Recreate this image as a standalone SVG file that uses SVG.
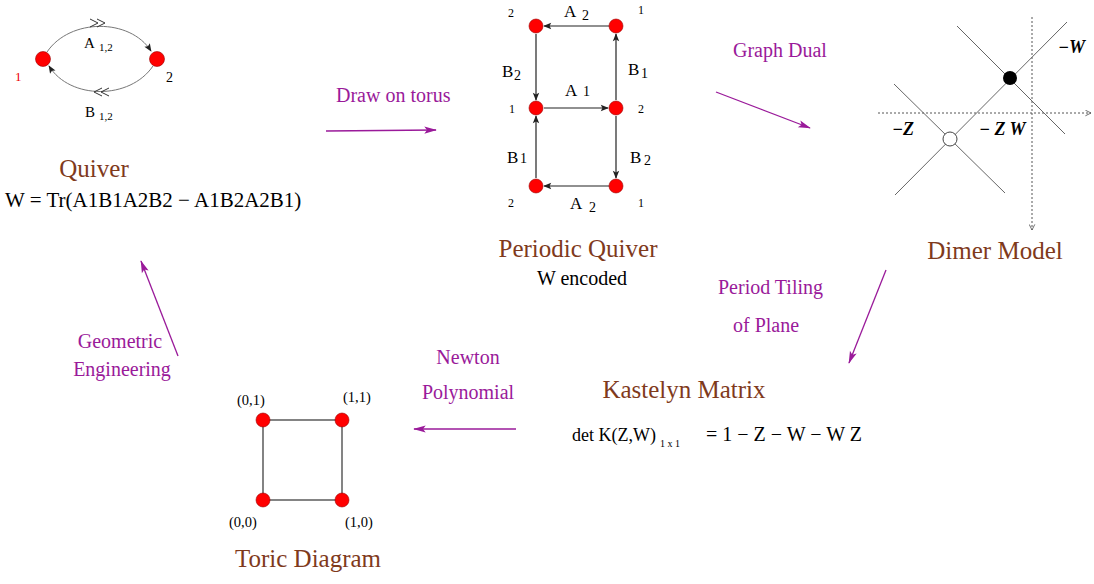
<svg xmlns="http://www.w3.org/2000/svg" width="1094" height="584" viewBox="0 0 1094 584">
<defs>
<style>
text{font-family:"Liberation Serif","Times New Roman",serif;fill:#000}
.title{font-size:25px;fill:#7f3a1c}
.lab{font-size:20px;fill:#9a1a9a}
.eq{font-size:20px}
.sm{font-size:11px}
.num{font-size:12px}
.med{font-size:15px}
.pq{font-size:17px}
.pqs{font-size:14px}
.bi{font-size:18px;font-weight:bold;font-style:italic}
.node{fill:#f00;stroke:#900;stroke-width:0.6}
.edge{stroke:#222;stroke-width:1.2;fill:none}
.arc{stroke:#777;stroke-width:1;fill:none}
.pa{stroke:#9a1a9a;stroke-width:1.3;fill:none}
.thin{stroke:#666;stroke-width:1;fill:none}
.dash{stroke:#555;stroke-width:1;stroke-dasharray:2,2;fill:none}
</style>
<marker id="ah" viewBox="0 0 10 10" refX="9" refY="5" markerWidth="10" markerHeight="8" markerUnits="userSpaceOnUse" orient="auto"><path d="M0,1 L10,5 L0,9 L2,5 Z" fill="#222"/></marker>
<marker id="pah" viewBox="0 0 14 10" refX="13" refY="5" markerWidth="14" markerHeight="9" markerUnits="userSpaceOnUse" orient="auto"><path d="M0,1 L14,5 L0,9 L3,5 Z" fill="#9a1a9a"/></marker>
<marker id="dah" viewBox="0 0 10 10" refX="9" refY="5" markerWidth="7" markerHeight="7" markerUnits="userSpaceOnUse" orient="auto"><path d="M1,1 L9,5 L1,9" fill="none" stroke="#555" stroke-width="1.2"/></marker>
</defs>
<rect width="1094" height="584" fill="#fff"/>

<g id="connectors">
<line class="pa" x1="326" y1="131" x2="436" y2="130" marker-end="url(#pah)"/>
<line class="pa" x1="716" y1="92" x2="810" y2="128" marker-end="url(#pah)"/>
<line class="pa" x1="886" y1="270" x2="849" y2="363" marker-end="url(#pah)"/>
<line class="pa" x1="516" y1="429" x2="414" y2="429" marker-end="url(#pah)"/>
<line class="pa" x1="178" y1="356" x2="141" y2="261" marker-end="url(#pah)"/>
</g>

<g id="edge-labels">
<text class="lab" x="336" y="102">Draw on torus</text>
<text class="lab" x="733" y="57">Graph Dual</text>
<text class="lab" x="718" y="294">Period Tiling</text>
<text class="lab" x="733" y="332">of Plane</text>
<text class="lab" x="468" y="364" text-anchor="middle">Newton</text>
<text class="lab" x="468" y="399" text-anchor="middle">Polynomial</text>
<text class="lab" x="120" y="348" text-anchor="middle">Geometric</text>
<text class="lab" x="122" y="376" text-anchor="middle">Engineering</text>
</g>

<g id="quiver">
<path class="arc" d="M47,52 C70,18 130,18 151,51" marker-end="url(#ah)"/>
<path class="arc" d="M153,66 C130,100 70,100 49,66" marker-end="url(#ah)"/>
<path d="M90,19 L98,23 L90,27 M97,19 L105,23 L97,27" fill="none" stroke="#333" stroke-width="1"/>
<path d="M102,88 L94,92 L102,96 M109,88 L101,92 L109,96" fill="none" stroke="#333" stroke-width="1"/>
<circle class="node" cx="43" cy="59" r="7.5"/>
<circle class="node" cx="157" cy="59" r="7.5"/>
<text class="med" x="84" y="48">A</text><text class="sm" x="99" y="51">1,2</text>
<text class="med" x="85" y="117">B</text><text class="sm" x="99" y="120">1,2</text>
<text x="15" y="81" style="fill:#e00;font-size:13px">1</text>
<text x="166" y="82" style="font-size:14px">2</text>
<text class="title" x="94" y="177" text-anchor="middle">Quiver</text>
<text class="eq" x="5" y="207" style="font-size:21px">W = Tr(A1B1A2B2 − A1B2A2B1)</text>
</g>

<g id="periodic-quiver">
<line class="edge" x1="609" y1="26" x2="544" y2="26" marker-end="url(#ah)"/>
<line class="edge" x1="536" y1="34" x2="536" y2="100" marker-end="url(#ah)"/>
<line class="edge" x1="544" y1="108" x2="608" y2="108" marker-end="url(#ah)"/>
<line class="edge" x1="616" y1="100" x2="616" y2="34" marker-end="url(#ah)"/>
<line class="edge" x1="616" y1="116" x2="616" y2="178" marker-end="url(#ah)"/>
<line class="edge" x1="609" y1="186" x2="544" y2="186" marker-end="url(#ah)"/>
<line class="edge" x1="536" y1="178" x2="536" y2="116" marker-end="url(#ah)"/>
<circle class="node" cx="536" cy="26" r="7"/>
<circle class="node" cx="616" cy="26" r="7"/>
<circle class="node" cx="536" cy="108" r="7"/>
<circle class="node" cx="616" cy="108" r="7"/>
<circle class="node" cx="536" cy="186" r="7"/>
<circle class="node" cx="616" cy="186" r="7"/>
<text class="num" x="508" y="17">2</text>
<text class="pq" x="564" y="17">A</text><text class="pqs" x="582" y="20">2</text>
<text class="num" x="638" y="14">1</text>
<text class="pq" x="502" y="77">B</text><text class="pqs" x="514" y="80">2</text>
<text class="pq" x="628" y="75">B</text><text class="pqs" x="641" y="78">1</text>
<text class="num" x="509" y="113">1</text>
<text class="pq" x="565" y="96">A</text><text class="pqs" x="583" y="96">1</text>
<text class="num" x="638" y="113">2</text>
<text class="pq" x="507" y="163">B</text><text class="pqs" x="520" y="163">1</text>
<text class="pq" x="630" y="163">B</text><text class="pqs" x="644" y="165">2</text>
<text class="num" x="508" y="207">2</text>
<text class="pq" x="570" y="209">A</text><text class="pqs" x="589" y="212">2</text>
<text class="num" x="638" y="207">1</text>
<text class="title" x="578" y="257" text-anchor="middle">Periodic Quiver</text>
<text x="582" y="285" text-anchor="middle" style="font-size:20px">W encoded</text>
</g>

<g id="dimer-model">
<line class="dash" x1="878" y1="113" x2="1091" y2="113" marker-end="url(#dah)"/>
<line class="dash" x1="1032" y1="17" x2="1032" y2="230" marker-end="url(#dah)"/>
<line class="thin" x1="957" y1="26" x2="1065" y2="134"/>
<line class="thin" x1="1067" y1="22" x2="895" y2="195"/>
<line class="thin" x1="894" y1="84" x2="1005" y2="193"/>
<circle cx="1010" cy="78" r="7" fill="#000"/>
<circle cx="950" cy="139" r="7" fill="#fff" stroke="#444" stroke-width="1"/>
<text class="bi" x="1058" y="53">−W</text>
<text class="bi" x="892" y="135">−Z</text>
<text class="bi" x="979" y="135">− Z W</text>
<text class="title" x="995" y="259" text-anchor="middle">Dimer Model</text>
</g>

<g id="kastelyn-matrix">
<text class="title" x="684" y="398" text-anchor="middle">Kastelyn Matrix</text>
<text class="eq" x="572" y="441" style="font-size:18px">det K(Z,W)</text>
<text x="660" y="447" style="font-size:10px">1 x 1</text>
<text class="eq" x="706" y="441">= 1 − Z − W − W Z</text>
</g>

<g id="toric-diagram">
<rect x="263" y="420" width="79" height="80" class="edge" style="stroke:#333"/>
<circle class="node" cx="263" cy="420" r="7"/>
<circle class="node" cx="342" cy="420" r="7"/>
<circle class="node" cx="263" cy="500" r="7"/>
<circle class="node" cx="342" cy="500" r="7"/>
<text x="237" y="405" style="font-size:14.5px">(0,1)</text>
<text x="343" y="402" style="font-size:14.5px">(1,1)</text>
<text x="229" y="527" style="font-size:14.5px">(0,0)</text>
<text x="345" y="527" style="font-size:14.5px">(1,0)</text>
<text class="title" x="308" y="567" text-anchor="middle">Toric Diagram</text>
</g>
</svg>
